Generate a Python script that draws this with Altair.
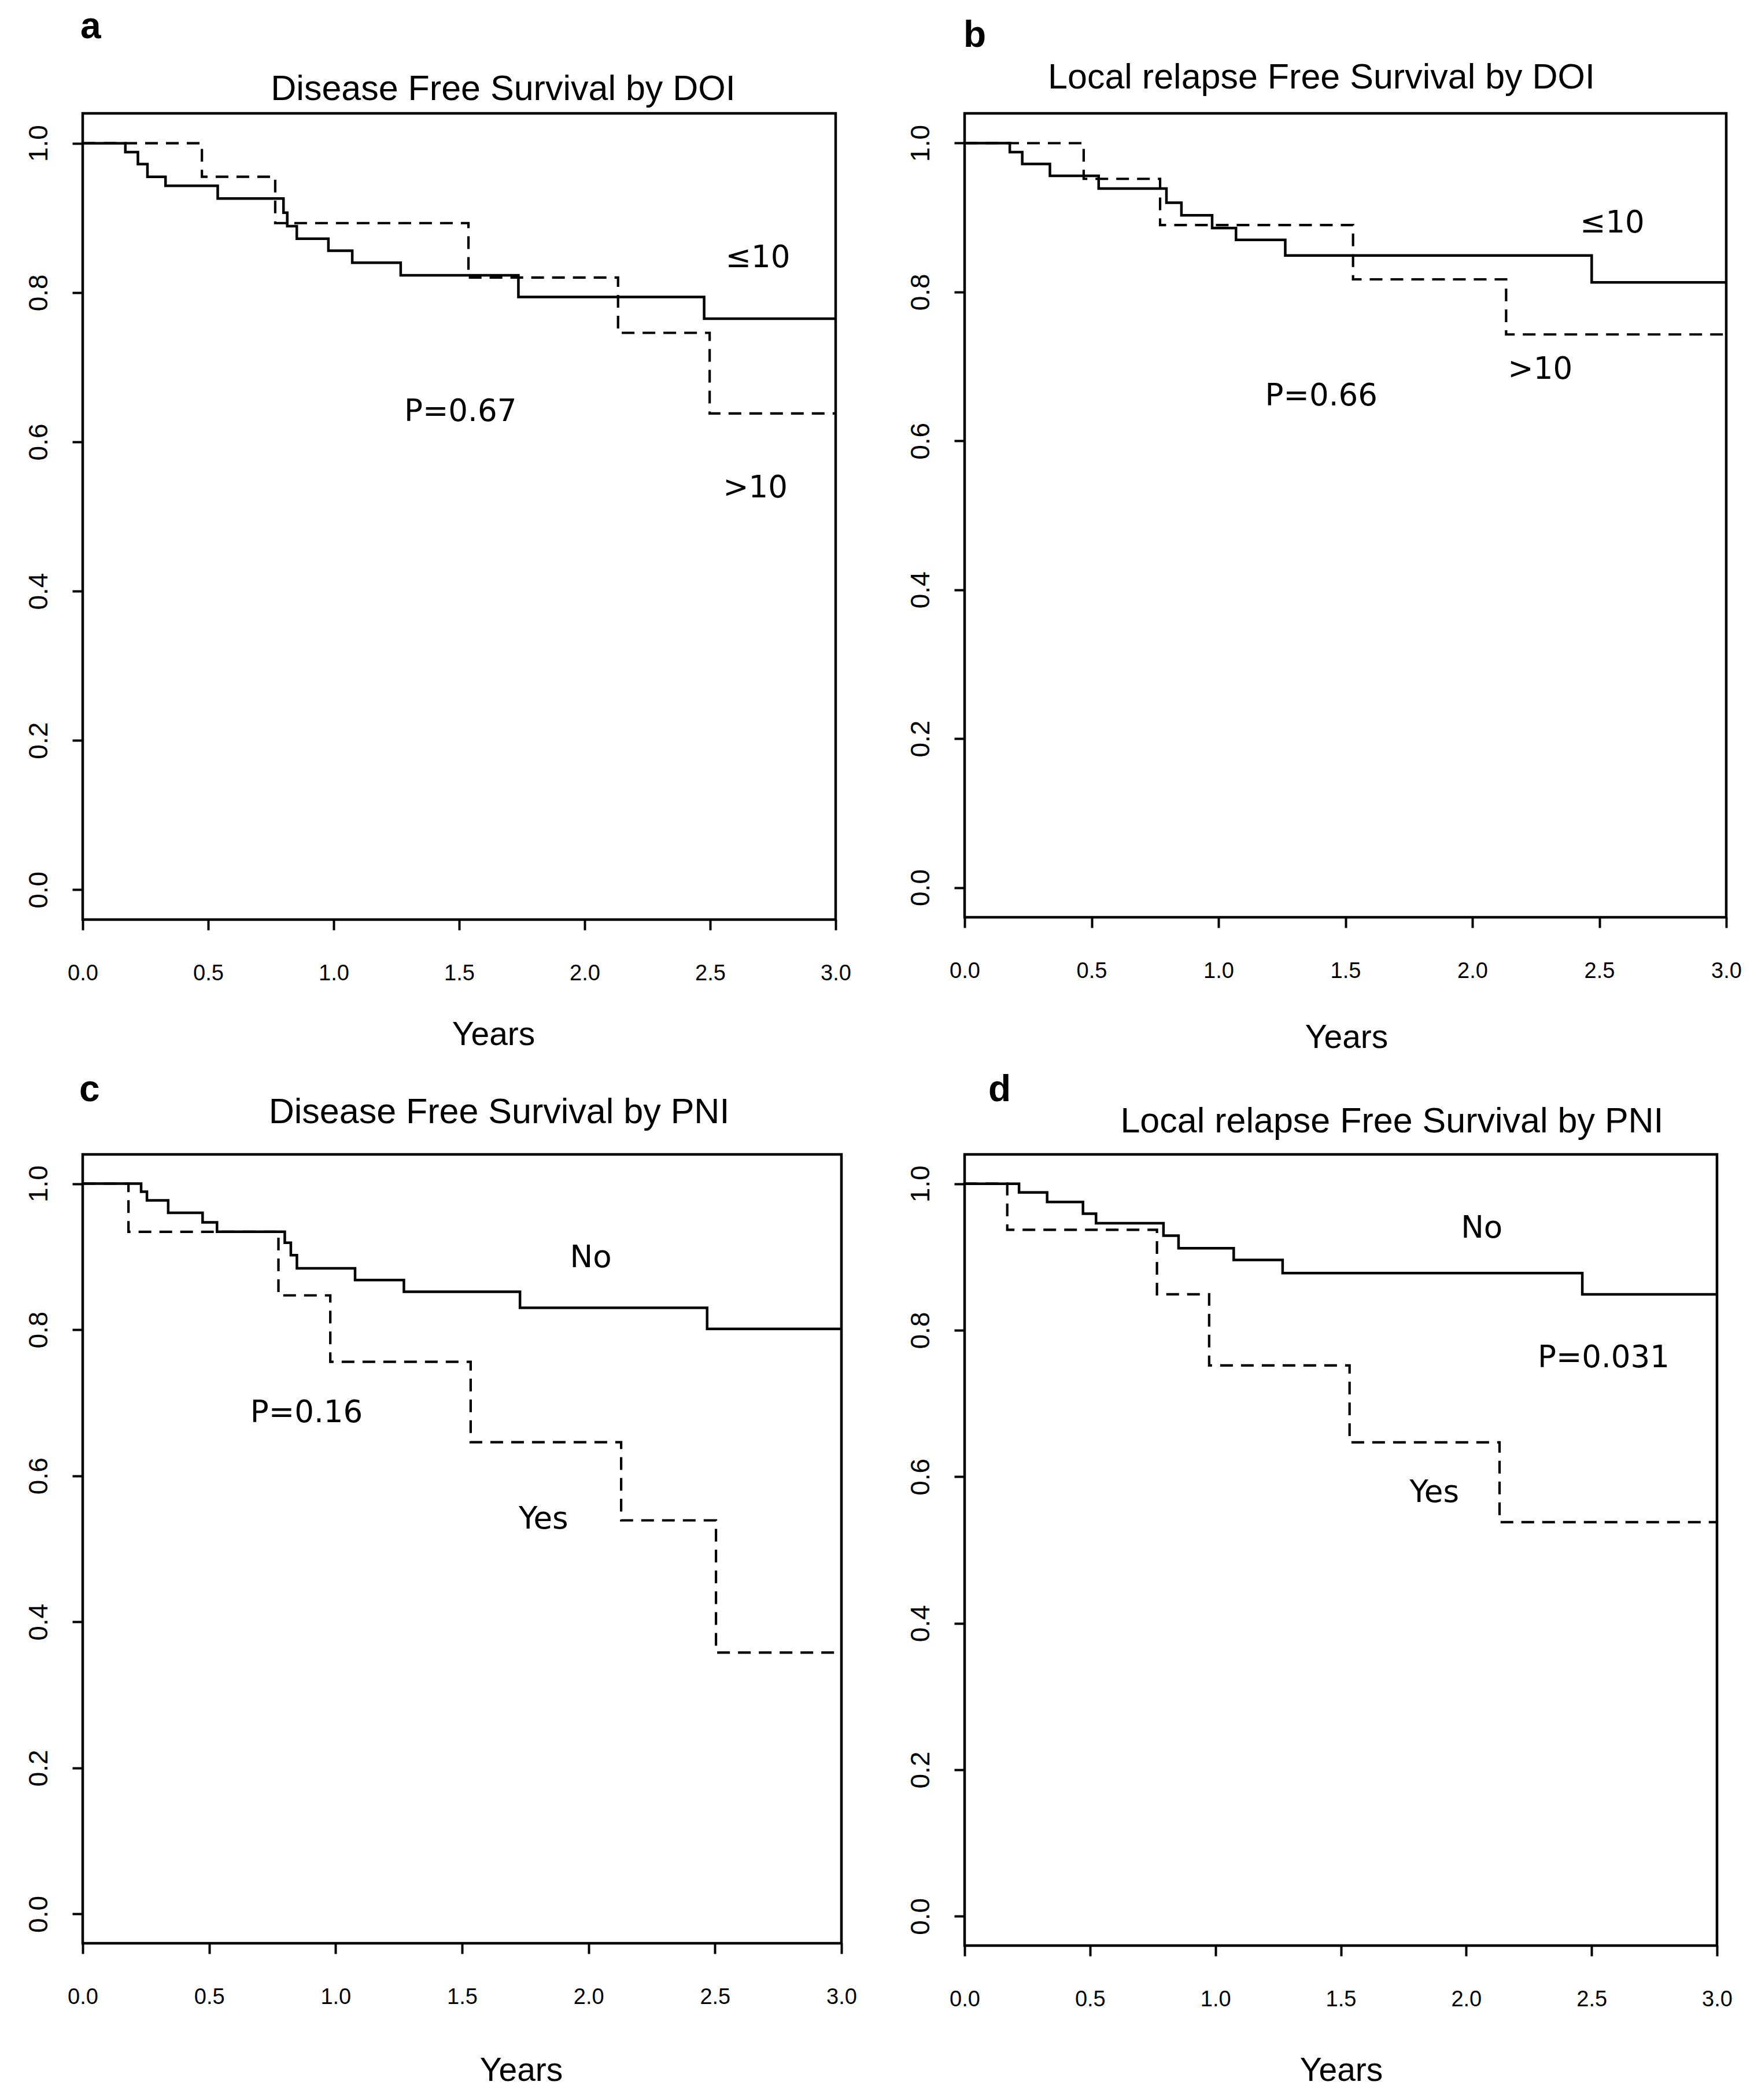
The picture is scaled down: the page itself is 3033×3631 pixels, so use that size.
import altair as alt
import pandas as pd

# ---------------- data ----------------
# a: Disease Free Survival by DOI
a_le10_t = [0, 0.170, 0.220, 0.258, 0.330, 0.538, 0.800, 0.815, 0.853, 0.979, 1.074, 1.267, 1.736, 2.476, 3.0]
a_le10_s = [1.0, 0.988, 0.972, 0.955, 0.943, 0.926, 0.907, 0.889, 0.872, 0.856, 0.840, 0.823, 0.794, 0.765, 0.765]
a_gt10_t = [0, 0.475, 0.767, 1.537, 2.133, 2.498, 3.0]
a_gt10_s = [1.0, 0.955, 0.893, 0.820, 0.746, 0.638, 0.638]
a_notes = ["≤10", ">10", "P=0.67"]
a_notes_x = [2.69, 2.68, 1.505]
a_notes_y = [0.846, 0.538, 0.640]

# b: Local relapse Free Survival by DOI
b_le10_t = [0, 0.178, 0.227, 0.336, 0.528, 0.795, 0.854, 0.975, 1.069, 1.263, 2.470, 3.0]
b_le10_s = [1.0, 0.988, 0.972, 0.956, 0.939, 0.920, 0.903, 0.886, 0.870, 0.849, 0.813, 0.813]
b_gt10_t = [0, 0.469, 0.770, 1.530, 2.133, 3.0]
b_gt10_s = [1.0, 0.952, 0.890, 0.817, 0.743, 0.743]
b_notes = ["≤10", ">10", "P=0.66"]
b_notes_x = [2.551, 2.267, 1.405]
b_notes_y = [0.892, 0.696, 0.660]

# c: Disease Free Survival by PNI
c_no_t = [0, 0.231, 0.254, 0.338, 0.474, 0.531, 0.799, 0.823, 0.847, 1.077, 1.270, 1.729, 2.469, 3.0]
c_no_s = [1.0, 0.989, 0.977, 0.960, 0.947, 0.934, 0.919, 0.902, 0.884, 0.868, 0.852, 0.830, 0.801, 0.801]
c_yes_t = [0, 0.181, 0.774, 0.979, 1.534, 2.129, 2.504, 3.0]
c_yes_s = [1.0, 0.934, 0.847, 0.756, 0.646, 0.539, 0.358, 0.358]
c_notes = ["No", "Yes", "P=0.16"]
c_notes_x = [2.009, 1.822, 0.885]
c_notes_y = [0.898, 0.540, 0.686]

# d: Local relapse Free Survival by PNI
d_no_t = [0, 0.217, 0.329, 0.472, 0.524, 0.793, 0.853, 1.073, 1.268, 2.463, 3.0]
d_no_s = [1.0, 0.988, 0.975, 0.959, 0.946, 0.929, 0.912, 0.896, 0.878, 0.849, 0.849]
d_yes_t = [0, 0.170, 0.767, 0.975, 1.535, 2.133, 3.0]
d_yes_s = [1.0, 0.937, 0.849, 0.752, 0.647, 0.538, 0.538]
d_notes = ["No", "Yes", "P=0.031"]
d_notes_x = [2.062, 1.873, 2.548]
d_notes_y = [0.939, 0.578, 0.762]

x_ticks = [0.0, 0.5, 1.0, 1.5, 2.0, 2.5, 3.0]
y_ticks = [0.0, 0.2, 0.4, 0.6, 0.8, 1.0]

FONT = "Liberation Sans"
NOTE_FONT = "DejaVu Sans"


def panel(letter, title, solid, dashed, notes, nx, ny,
          w, h, title_x, title_y, let_x, let_y, tx, ty):
    xs = alt.Scale(domain=[0, 3], nice=False, zero=False)
    ys = alt.Scale(domain=[-0.04, 1.04], nice=False, zero=False)
    xaxis = alt.Axis(values=x_ticks, format=".1f", labelFont=FONT, labelFontSize=38,
                     labelColor="black", tickSize=18, tickWidth=4, tickColor="black",
                     labelPadding=56, domain=False, grid=False, labelFlush=False,
                     title="Years", titleFont=FONT, titleFontSize=57,
                     titleFontWeight="normal", titleColor="black",
                     titleX=tx, titleY=ty, titleBaseline="alphabetic")
    yaxis = alt.Axis(values=y_ticks, format=".1f", labelFont=FONT, labelFontSize=46,
                     labelColor="black", labelAngle=270, tickSize=18, tickWidth=4,
                     tickColor="black", labelPadding=34, domain=False, grid=False,
                     labelFlush=False, title=None)
    X = alt.X("t:Q", scale=xs, axis=xaxis)
    Y = alt.Y("s:Q", scale=ys, axis=yaxis)

    df_solid = pd.DataFrame({"t": solid[0], "s": solid[1]})
    df_dash = pd.DataFrame({"t": dashed[0], "s": dashed[1]})
    l1 = alt.Chart(df_solid).mark_line(interpolate="step-after", color="black",
                                       strokeWidth=4.5).encode(x=X, y=Y)
    l2 = alt.Chart(df_dash).mark_line(interpolate="step-after", color="black",
                                      strokeWidth=4.2, strokeDash=[22, 14]).encode(x=X, y=Y)
    df_notes = pd.DataFrame({"t": nx, "s": ny, "label": notes})
    notes_layer = alt.Chart(df_notes).mark_text(font=NOTE_FONT, fontSize=53, color="black",
                                                align="center", baseline="middle").encode(
        x=X, y=Y, text="label:N")
    letter_layer = alt.Chart(pd.DataFrame({"l": [letter]})).mark_text(
        font=FONT, fontSize=64, fontWeight="bold", color="black",
        align="left", baseline="alphabetic").encode(
        text="l:N", x=alt.value(let_x), y=alt.value(let_y))
    title_layer = alt.Chart(pd.DataFrame({"l": [title]})).mark_text(
        font=FONT, fontSize=61, color="black",
        align="center", baseline="alphabetic").encode(
        text="l:N", x=alt.value(title_x), y=alt.value(title_y))
    return alt.layer(l1, l2, notes_layer, letter_layer, title_layer).properties(
        width=w, height=h)


pa = panel("a", "Disease Free Survival by DOI", (a_le10_t, a_le10_s), (a_gt10_t, a_gt10_s),
           a_notes, a_notes_x, a_notes_y, 1302, 1394, 727, -23, -4, -130, 710, 216)
pb = panel("b", "Local relapse Free Survival by DOI", (b_le10_t, b_le10_s), (b_gt10_t, b_gt10_s),
           b_notes, b_notes_x, b_notes_y, 1317, 1390, 617, -43, -2, -115, 660, 225)
pc = panel("c", "Disease Free Survival by PNI", (c_no_t, c_no_s), (c_yes_t, c_yes_s),
           c_notes, c_notes_x, c_notes_y, 1312, 1364, 720, -54, -6, -92, 758, 237)
pd_ = panel("d", "Local relapse Free Survival by PNI", (d_no_t, d_no_s), (d_yes_t, d_yes_s),
            d_notes, d_notes_x, d_notes_y, 1301, 1368, 739, -38, 41, -92, 651, 233)

chart = alt.vconcat(
    alt.hconcat(pa, pb, spacing=92),
    alt.hconcat(pc, pd_, spacing=82),
    spacing=25,
).properties(
    padding={"left": 33, "top": 4, "right": 5, "bottom": 5},
    background="white",
).configure_view(stroke="black", strokeWidth=4.5)

chart.save("out.html", embed_options={"renderer": "svg", "actions": False})
